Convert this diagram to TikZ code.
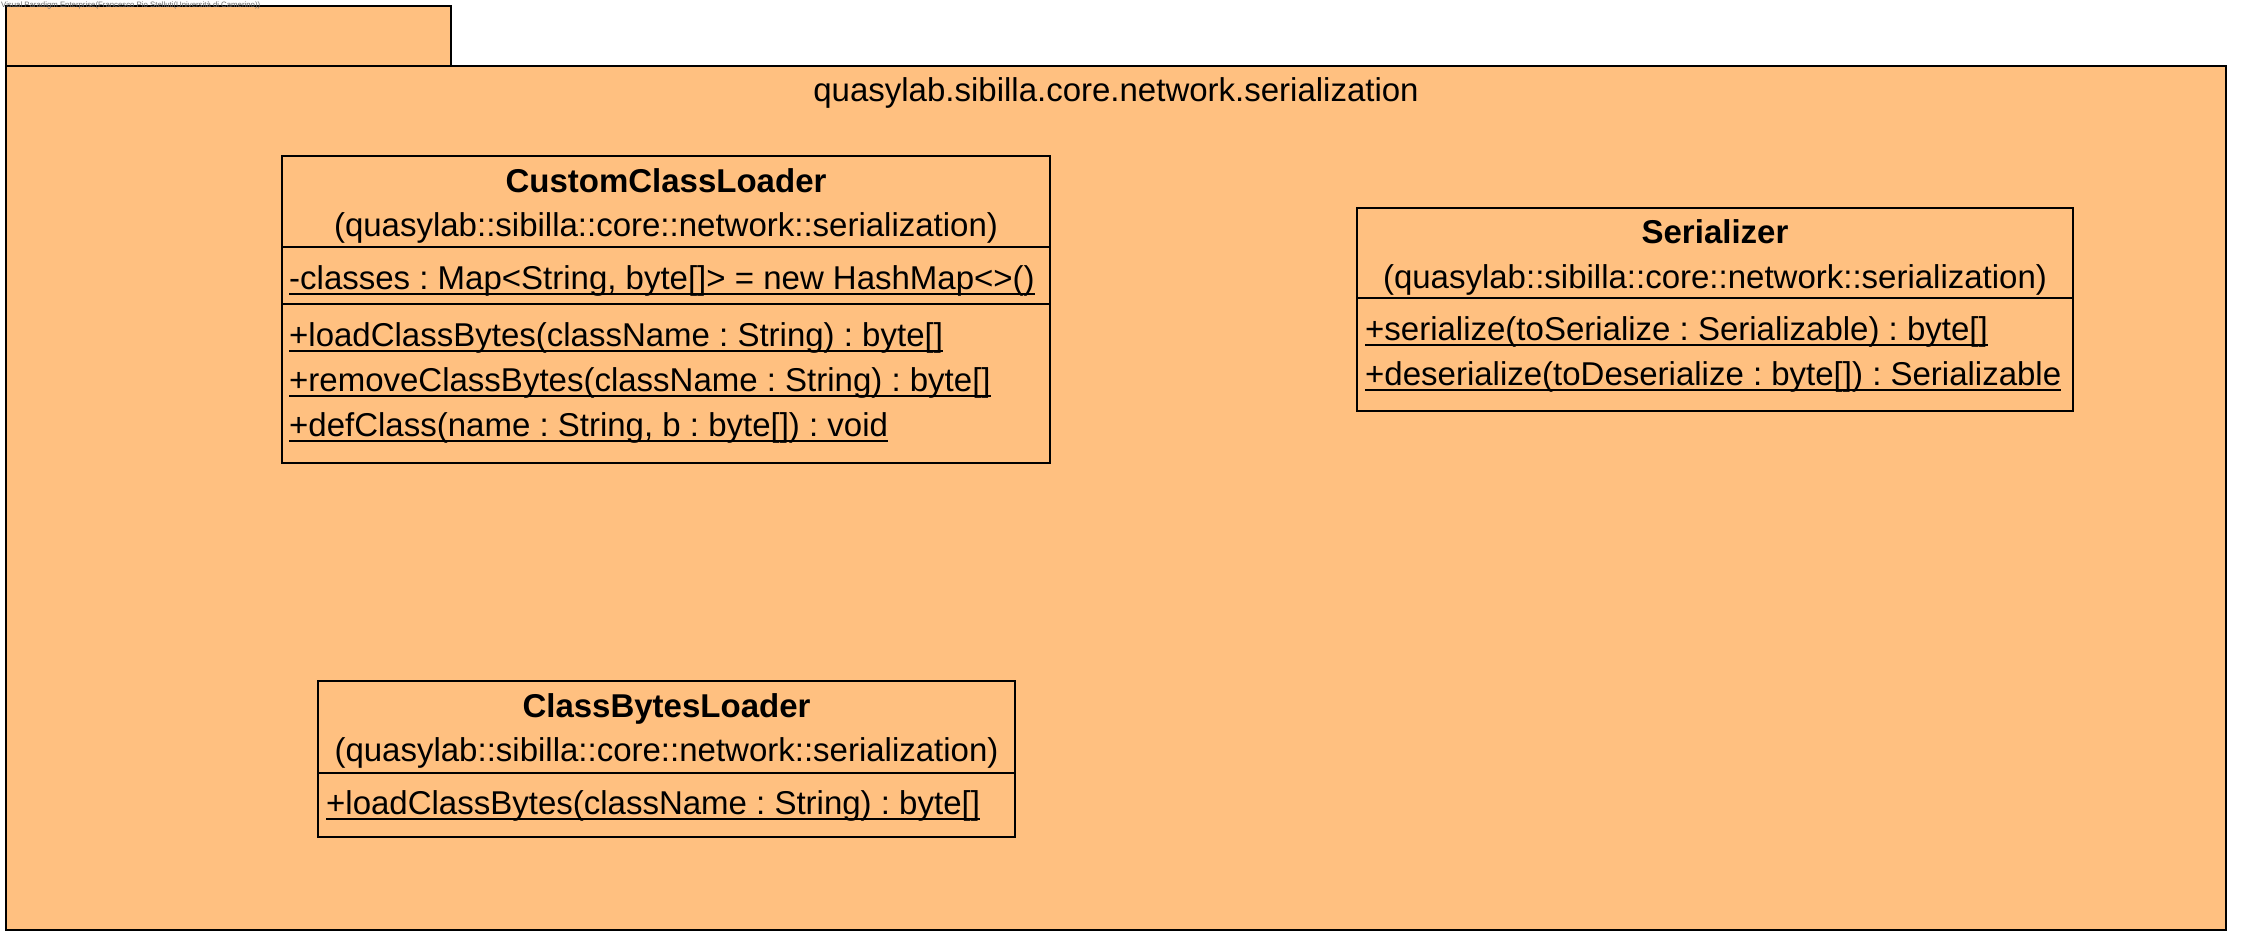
\documentclass[tikz,border=0pt]{standalone}
\usepackage{fontspec}
\setmainfont{Liberation Sans}
\frenchspacing
\definecolor{pkgfill}{RGB}{255,192,128}
\definecolor{wmgray}{RGB}{110,110,110}
\newcommand\umline[1]{\draw[ul] ([yshift=-5pt]#1.base west) -- ([yshift=-5pt]#1.base east);}
\begin{document}
\begin{tikzpicture}[x=1pt,y=-1pt,
  pkg/.style={draw=black, line width=2.5pt, fill=pkgfill},
  cls/.style={draw=black, line width=2.5pt},
  sepline/.style={line width=2.5pt},
  ul/.style={line width=2pt},
  nm/.style={font=\fontsize{33}{40}\selectfont\bfseries, anchor=base, inner sep=0pt},
  pk/.style={font=\fontsize{33}{40}\selectfont, anchor=base, inner sep=0pt},
  mem/.style={font=\fontsize{33}{40}\selectfont, anchor=base west, inner sep=0pt},
]
\fill[white] (0,0) rectangle (2241,945);
\useasboundingbox (0,0) rectangle (2241,945);

% package
\draw[pkg] (6,6) rectangle (451,66);
\draw[pkg] (6,66) rectangle (2226,930);
\node[pk] (ptitle) at (1116,101) {quasylab.sibilla.core.network.serialization};
\node[anchor=north west, inner sep=0pt, font=\fontsize{7.8}{9}\selectfont, text=wmgray] (wm) at (1,1.5) {Visual Paradigm Enterprise(Francesco Pio Stelluti(Università di Camerino))};

% CustomClassLoader
\draw[cls] (282,156) rectangle (1050,463);
\node[nm] (cclname) at (666,192) {CustomClassLoader};
\node[pk] (cclpkg) at (666,236) {(quasylab::sibilla::core::network::serialization)};
\draw[sepline] (282,247) -- (1050,247);
\node[mem] (ccla1) at (289,289) {-classes : Map<String, byte[]> = new HashMap<>()};
\umline{ccla1}
\draw[sepline] (282,304) -- (1050,304);
\node[mem] (cclo1) at (289,346) {+loadClassBytes(className : String) : byte[]};
\umline{cclo1}
\node[mem] (cclo2) at (289,391) {+removeClassBytes(className : String) : byte[]};
\umline{cclo2}
\node[mem] (cclo3) at (289,436) {+defClass(name : String, b : byte[]) : void};
\umline{cclo3}

% Serializer
\draw[cls] (1357,208) rectangle (2073,411);
\node[nm] (sername) at (1715,243) {Serializer};
\node[pk] (serpkg) at (1715,288) {(quasylab::sibilla::core::network::serialization)};
\draw[sepline] (1357,298) -- (2073,298);
\node[mem] (sero1) at (1365,340) {+serialize(toSerialize : Serializable) : byte[]};
\umline{sero1}
\node[mem] (sero2) at (1365,385) {+deserialize(toDeserialize : byte[]) : Serializable};
\umline{sero2}

% ClassBytesLoader
\draw[cls] (318,681) rectangle (1015,837);
\node[nm] (cblname) at (666.5,717) {ClassBytesLoader};
\node[pk] (cblpkg) at (666.5,761) {(quasylab::sibilla::core::network::serialization)};
\draw[sepline] (318,773) -- (1015,773);
\node[mem] (cblo1) at (326,814) {+loadClassBytes(className : String) : byte[]};
\umline{cblo1}
\end{tikzpicture}
\end{document}
